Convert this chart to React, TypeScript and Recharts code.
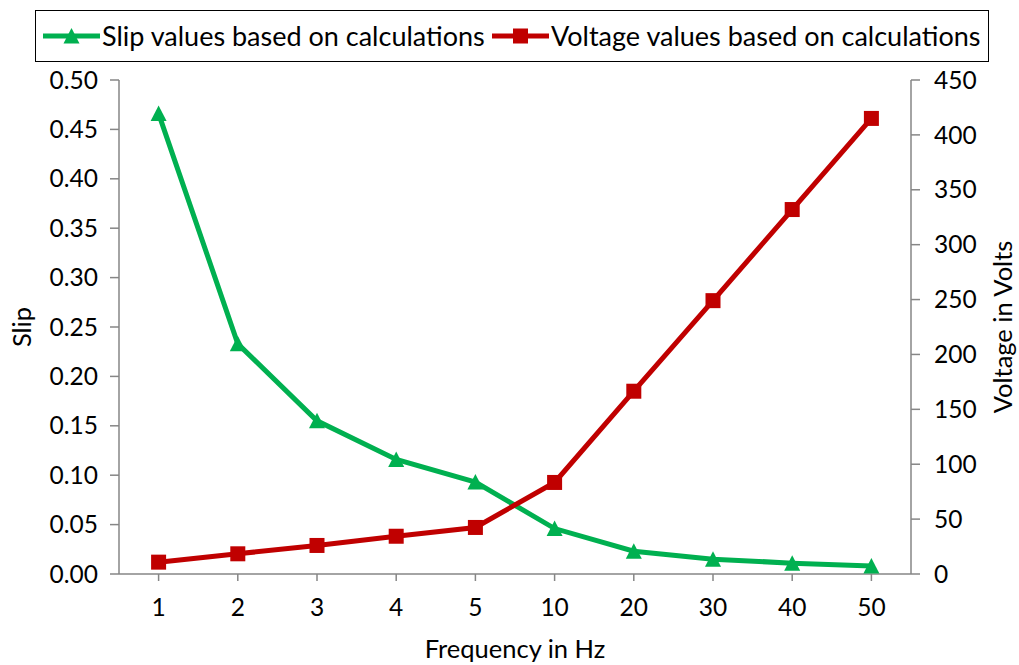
import React from 'react';
import { LineChart, Line, XAxis, YAxis, Legend, Label } from 'recharts';

// Motor frequency sweep: slip and applied voltage at each supply frequency
const frequencies = ['1', '2', '3', '4', '5', '10', '20', '30', '40', '50'];
const slipValues = [0.466, 0.233, 0.155, 0.116, 0.093, 0.046, 0.023, 0.015, 0.011, 0.008];
const voltageValues = [10.8, 18.4, 26.0, 34.4, 42.4, 83.4, 166.5, 249, 332, 415];

const slipTicks = [0, 0.05, 0.1, 0.15, 0.2, 0.25, 0.3, 0.35, 0.4, 0.45, 0.5];
const voltageTicks = [0, 50, 100, 150, 200, 250, 300, 350, 400, 450];

const SLIP_NAME = 'Slip values based on calculations';
const VOLT_NAME = 'Voltage values based on calculations';

const GREEN = '#00B050';
const RED = '#C00000';
const AXIS_GRAY = '#868686';
const FONT = 'Lato, "Open Sans", sans-serif';

const data = frequencies.map((f, i) => ({
  freq: f,
  slip: slipValues[i],
  voltage: voltageValues[i],
}));

const TriangleDot = (props: any) => {
  const { cx, cy, index } = props;
  if (cx == null || cy == null) return null;
  return (
    <polygon
      key={`tri-${index}`}
      points={`${cx},${cy - 8} ${cx + 8},${cy + 7.5} ${cx - 8},${cy + 7.5}`}
      fill={GREEN}
    />
  );
};

const SquareDot = (props: any) => {
  const { cx, cy, index } = props;
  if (cx == null || cy == null) return null;
  return <rect key={`sq-${index}`} x={cx - 7.5} y={cy - 7.5} width={15} height={15} fill={RED} />;
};

const LegendIcon = ({ color, kind }: { color: string; kind: string }) => (
  <svg width={57} height={20} style={{ display: 'block' }}>
    <line x1={0} y1={10} x2={57} y2={10} stroke={color} strokeWidth={5} />
    {kind === 'triangle' ? (
      <polygon points="28.5,2 36.5,17.5 20.5,17.5" fill={color} />
    ) : (
      <rect x={21} y={2.5} width={15} height={15} fill={color} />
    )}
  </svg>
);

const renderLegend = (props: any) => {
  const payload = props.payload || [];
  const starts = [7, 456];
  return (
    <div
      style={{
        position: 'relative',
        width: 954,
        height: 52,
        boxSizing: 'border-box',
        border: '1.5px solid #000',
        background: '#fff',
        fontFamily: FONT,
      }}
    >
      {payload.map((entry: any, i: number) => (
        <div
          key={entry.value}
          style={{
            position: 'absolute',
            left: starts[i],
            top: 0,
            height: 49,
            display: 'flex',
            alignItems: 'center',
            whiteSpace: 'nowrap',
          }}
        >
          <LegendIcon color={entry.color} kind={i === 0 ? 'triangle' : 'square'} />
          <span style={{ marginLeft: 2, fontSize: 27, color: '#000', lineHeight: '49px' }}>
            {entry.value}
          </span>
        </div>
      ))}
    </div>
  );
};

const tickStyle = { fill: '#000', fontSize: 24.5, fontFamily: FONT };
const titleStyle = { fill: '#000', fontSize: 25.5, fontFamily: FONT, textAnchor: 'middle' as const };

export default function App() {
  return (
    <div style={{ position: 'absolute', left: 0, top: 0, width: 1019, height: 665, background: '#fff' }}>
      <LineChart
        width={1019}
        height={665}
        data={data}
        margin={{ top: 80, right: 0, bottom: 0, left: 0 }}
      >
        <XAxis
          dataKey="freq"
          type="category"
          height={91}
          padding={{ left: 39.6, right: 39.6 }}
          tickSize={7}
          tickMargin={18}
          tick={tickStyle}
          axisLine={{ stroke: AXIS_GRAY, strokeWidth: 1.5 }}
          tickLine={{ stroke: AXIS_GRAY, strokeWidth: 1.5 }}
          interval={0}
        >
          <Label value="Frequency in Hz" position="insideBottom" offset={7} style={titleStyle} />
        </XAxis>
        <YAxis
          yAxisId="slip"
          orientation="left"
          width={119}
          domain={[0, 0.5]}
          ticks={slipTicks}
          interval={0}
          tickFormatter={(v: number) => v.toFixed(2)}
          tickSize={9}
          tickMargin={12}
          tick={tickStyle}
          axisLine={{ stroke: AXIS_GRAY, strokeWidth: 1.5 }}
          tickLine={{ stroke: AXIS_GRAY, strokeWidth: 1.5 }}
        >
          <Label value="Slip" angle={-90} position="insideLeft" offset={22} style={titleStyle} />
        </YAxis>
        <YAxis
          yAxisId="volt"
          orientation="right"
          width={108}
          domain={[0, 450]}
          ticks={voltageTicks}
          interval={0}
          tickSize={9}
          tickMargin={14}
          tick={tickStyle}
          axisLine={{ stroke: AXIS_GRAY, strokeWidth: 1.5 }}
          tickLine={{ stroke: AXIS_GRAY, strokeWidth: 1.5 }}
        >
          <Label value="Voltage in Volts" angle={-90} position="insideRight" offset={16} style={titleStyle} />
        </YAxis>
        <Legend
          verticalAlign="middle"
          align="center"
          layout="horizontal"
          wrapperStyle={{ top: 10, left: 35, width: 954, height: 52 }}
          content={renderLegend}
        />
        <Line
          yAxisId="slip"
          dataKey="slip"
          name={SLIP_NAME}
          stroke={GREEN}
          strokeWidth={5}
          dot={TriangleDot}
          activeDot={false}
          isAnimationActive={false}
          legendType="triangle"
        />
        <Line
          yAxisId="volt"
          dataKey="voltage"
          name={VOLT_NAME}
          stroke={RED}
          strokeWidth={5}
          dot={SquareDot}
          activeDot={false}
          isAnimationActive={false}
          legendType="square"
        />
      </LineChart>
    </div>
  );
}
